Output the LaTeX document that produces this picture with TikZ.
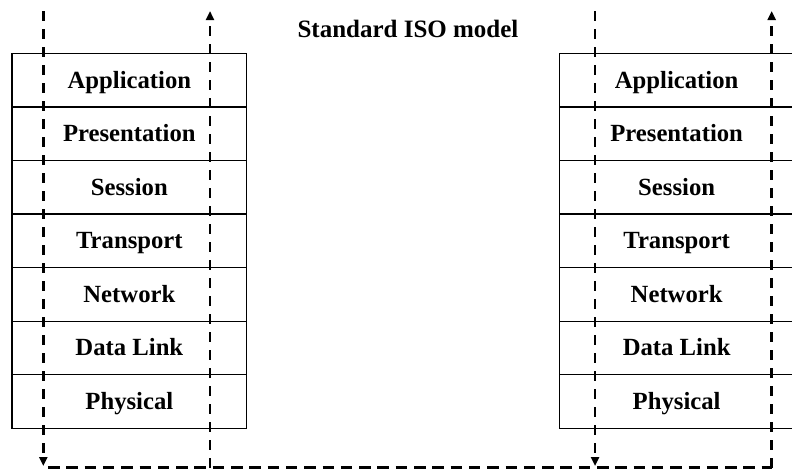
\documentclass[tikz,border=0pt]{standalone}
\usepackage{fontspec}
\setmainfont{Liberation Serif}
\usetikzlibrary{arrows.meta}
\begin{document}
\begin{tikzpicture}[x=1pt,y=-1pt,
  layer/.style={draw, line width=1.3pt, minimum width=234.7pt, minimum height=53.57pt,
    inner sep=0pt, outer sep=0pt, anchor=north west, text height=16pt, text depth=0pt,
    font=\fontsize{24.7}{28}\selectfont\bfseries},
  flow/.style={line width=2.5pt, dash pattern=on 10pt off 8pt},
  across/.style={line width=2.5pt, dash pattern=on 11.5pt off 6.8pt},
  flowarrow/.style={flow, -{Triangle[length=9pt,width=8pt]}},
  heading/.style={font=\fontsize{25}{30}\selectfont\bfseries}]
\useasboundingbox (0,0) rectangle (792,471);
\clip (0,0) rectangle (792,471);

% two protocol stacks
\foreach [count=\i] \name in {Application,Presentation,Session,Transport,Network,Data Link,Physical} {
  \node[layer] (L\i) at (12, {53.3+53.57*(\i-1)}) {\name};
  \node[layer] (R\i) at (559.3, {53.3+53.57*(\i-1)}) {\name};
}

\node[heading] (title) at (408, 29) {Standard ISO model};

% data path: down one stack, across, up the other
\coordinate (ldTop) at (43.3, 11);
\coordinate (ldBot) at (43.3, 466);
\coordinate (luTop) at (210, 11);
\coordinate (luBot) at (210, 467.5);
\coordinate (rdTop) at (595, 11);
\coordinate (rdBot) at (595, 466);
\coordinate (ruTop) at (771.7, 11);
\coordinate (ruBot) at (771.7, 467.5);
\coordinate (hStart) at (48, 467.5);

\draw[flowarrow] (ldTop) -- (ldBot);
\draw[flowarrow] (rdTop) -- (rdBot);
\draw[flowarrow] (luBot) -- (luTop);
\draw[flowarrow] (ruBot) -- (ruTop);
\draw[across] (hStart) -- (ruBot);
\end{tikzpicture}
\end{document}
